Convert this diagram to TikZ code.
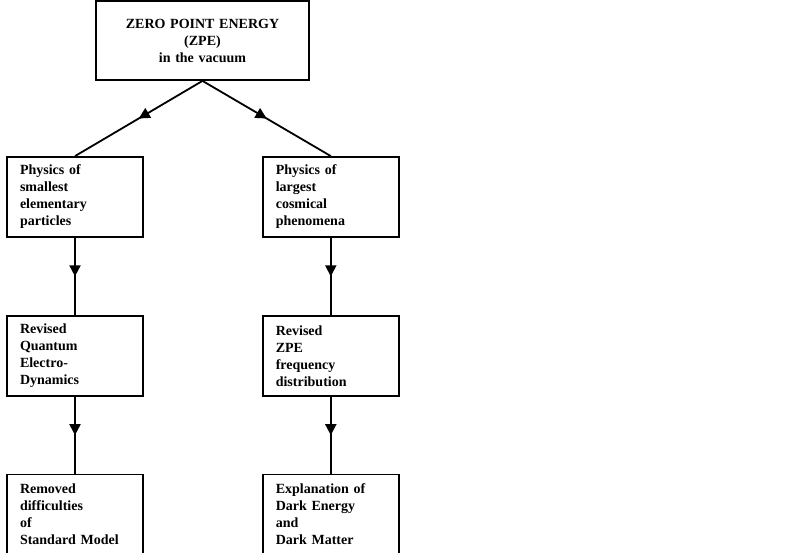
\documentclass[tikz,border=0pt]{standalone}
\usepackage{fontspec}
\setmainfont{Liberation Serif}
\usetikzlibrary{positioning, arrows.meta, decorations.markings}

\begin{document}
\begin{tikzpicture}[
    x=1pt, y=1pt,
    node distance=77pt and 118pt,
    box/.style={
        draw,
        line width=1.8pt,
        align=left,
        font=\bfseries\fontsize{14}{17}\selectfont,
        inner xsep=13pt,
        text width=110pt,
        minimum height=80pt
    },
    midarrow/.style={
        line width=1.8pt,
        postaction={decorate},
        decoration={markings,
            mark=at position 0.5 with {\arrow{Triangle[length=11pt,width=11pt]}}}
    }
]

% canvas
\fill[white] (0,0) rectangle (800,553);
\useasboundingbox (0,0) rectangle (800,553);

% top block
\node[box, align=center, text width=187pt, minimum height=79pt] (zpe) at (202.5,512.5) {
    ZERO POINT ENERGY\\
    (ZPE)\\
    in the vacuum
};

% left column
\node[box] (small) at (75,356) {
    Physics of\\
    smallest\\
    elementary\\
    particles
};
\node[box, below=of small] (qed) {
    Revised\\
    Quantum\\
    Electro-\\
    Dynamics
};
\node[box, below=of qed] (removed) {
    Removed\\
    difficulties\\
    of\\
    Standard Model
};

% right column
\node[box, right=of small] (large) {
    Physics of\\
    largest\\
    cosmical\\
    phenomena
};
\node[box, below=of large] (freq) {
    Revised\\
    ZPE\\
    frequency\\
    distribution
};
\node[box, below=of freq] (dark) {
    Explanation of\\
    Dark Energy\\
    and\\
    Dark Matter
};

% connectors
\draw[midarrow] (zpe.south) -- (small.north);
\draw[midarrow] (zpe.south) -- (large.north);
\draw[midarrow] (small) -- (qed);
\draw[midarrow] (qed) -- (removed);
\draw[midarrow] (large) -- (freq);
\draw[midarrow] (freq) -- (dark);

\end{tikzpicture}
\end{document}
